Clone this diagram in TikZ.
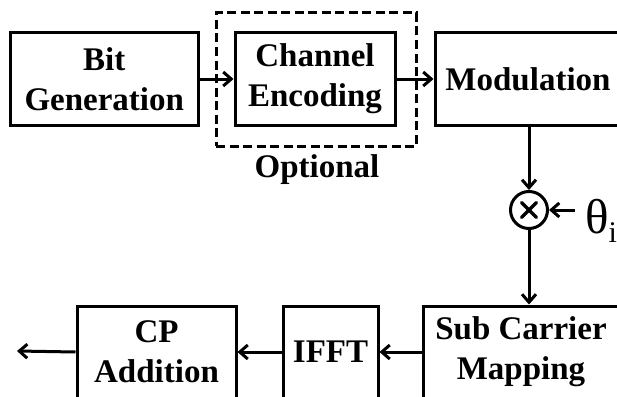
\documentclass[tikz,border=0pt]{standalone}
\usepackage{fontspec}
\setmainfont{Liberation Serif}
\usetikzlibrary{arrows.meta}
\begin{document}
\begin{tikzpicture}[x=1pt,y=-1pt,
  blk/.style={draw,line width=3pt,rectangle,inner sep=0pt,align=center,
    font=\bfseries\fontsize{33}{40}\selectfont},
  arr/.style={line width=3pt,-{Straight Barb[length=8pt,width=14pt,line width=3pt]}},
  dashbox/.style={draw,line width=3pt,dash pattern=on 9pt off 4.5pt,inner sep=0pt}]
\useasboundingbox (0,0) rectangle (617,396);
\clip (0,0) rectangle (617,396);
\node[blk,minimum width=187.5pt,minimum height=92pt] (bit) at (104.25,79) {Bit\\Generation};
\node[dashbox,minimum width=200pt,minimum height=133pt] (opt) at (316,79.5) {};
\node[blk,minimum width=160pt,minimum height=92pt] (enc) at (315,79) {Channel\\Encoding};
\node[blk,minimum width=186pt,minimum height=92pt] (mod) at (528,79) {Modulation};
\node[font=\bfseries\fontsize{33}{40}\selectfont,anchor=base] (optl) at (317,177) {Optional};
\node[circle,draw,line width=3pt,minimum size=37pt,inner sep=0pt] (mul) at (529,210) {};
\draw[line width=3.4pt,line cap=round] ([shift={(-7.5,-7.5)}]mul.center) -- ([shift={(7.5,7.5)}]mul.center)
  ([shift={(-7.5,7.5)}]mul.center) -- ([shift={(7.5,-7.5)}]mul.center);
\node[anchor=base west,inner sep=0pt] (theta) at (585,233) {\fontsize{49}{49}\selectfont θ\raisebox{-9pt}{\fontsize{30}{30}\selectfont i}};
\node[blk,minimum width=196pt,minimum height=92pt] (sub) at (521,352) {Sub Carrier\\Mapping};
\node[blk,minimum width=95pt,minimum height=92pt] (ifft) at (330.5,352) {IFFT};
\node[blk,minimum width=159pt,minimum height=92pt] (cp) at (156.5,352) {CP\\Addition};
\coordinate (out) at (17,351);
\draw[arr] (bit.east) -- (enc.west);
\draw[arr] (enc.east) -- (mod.west);
\draw[arr] (mod.south -| mul.north) -- (mul.north);
\draw[arr] (theta.west |- mul.east) ++(-10,0) -- (mul.east);
\draw[arr] (mul.south) -- (mul.south |- sub.north);
\draw[arr] (sub.west |- ifft.east) -- (ifft.east);
\draw[arr] (ifft.west) -- (cp.east);
\draw[arr] (cp.west) -- (out);
\end{tikzpicture}
\end{document}
